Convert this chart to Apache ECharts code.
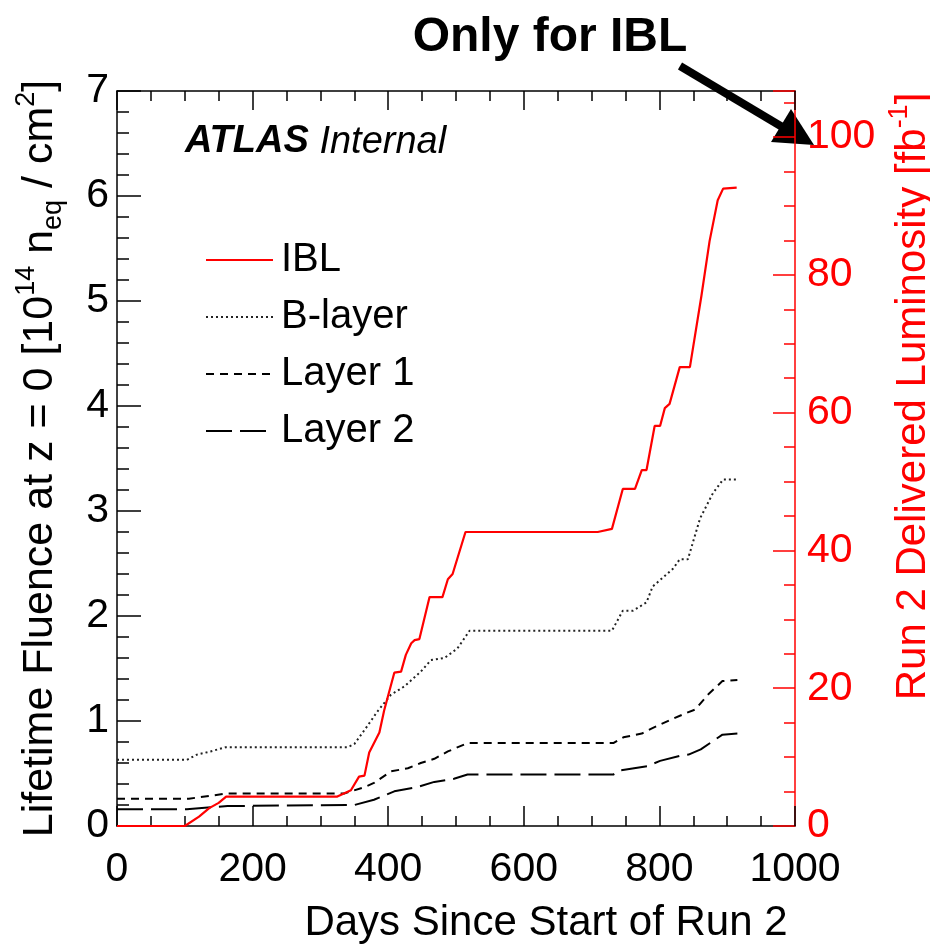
<!DOCTYPE html>
<html lang="en">
<head>
<meta charset="UTF-8">
<title>Lifetime Fluence</title>
<script src="https://cdn.jsdelivr.net/npm/echarts@6/dist/echarts.min.js"></script>
<style>
  html, body { margin: 0; padding: 0; background: #fff; }
  #chart { width: 930px; height: 946px; }
</style>
</head>
<body>
<div id="chart"></div>
<script>
// data (days since start of Run 2, fluence in 1e14 neq/cm2)
var iblDays = [0, 100, 121, 136, 150, 161, 325, 345, 357, 365, 372, 387, 394, 409, 419, 426, 434, 439, 446, 461, 480, 488, 495, 514, 709, 730, 746, 764, 774, 781, 793, 801, 808, 815, 830, 845, 862, 874, 886, 894, 914];
var iblFluence = [0, 0, 0.09, 0.17, 0.22, 0.28, 0.28, 0.34, 0.47, 0.48, 0.70, 0.89, 1.10, 1.46, 1.47, 1.63, 1.74, 1.77, 1.78, 2.18, 2.18, 2.35, 2.40, 2.80, 2.80, 2.83, 3.21, 3.21, 3.39, 3.39, 3.81, 3.81, 3.98, 4.02, 4.37, 4.37, 5.05, 5.57, 5.96, 6.07, 6.08];

var blayerDays = [0, 103, 118, 138, 160, 340, 350, 369, 384, 404, 424, 448, 463, 483, 502, 520, 730, 746, 761, 781, 790, 820, 830, 842, 860, 879, 894, 914];
var blayerFluence = [0.63, 0.63, 0.68, 0.71, 0.75, 0.75, 0.78, 0.95, 1.09, 1.25, 1.33, 1.47, 1.58, 1.60, 1.69, 1.86, 1.86, 2.05, 2.05, 2.13, 2.28, 2.45, 2.54, 2.54, 2.93, 3.17, 3.30, 3.30];

var layer1Days = [0, 106, 163, 335, 365, 379, 404, 429, 448, 468, 488, 517, 732, 747, 774, 789, 816, 841, 853, 873, 893, 915];
var layer1Fluence = [0.26, 0.26, 0.31, 0.31, 0.37, 0.41, 0.52, 0.55, 0.60, 0.64, 0.71, 0.79, 0.79, 0.845, 0.88, 0.93, 1.01, 1.08, 1.11, 1.26, 1.38, 1.39];

var layer2Days = [0, 103, 163, 350, 379, 409, 443, 468, 497, 517, 732, 742, 782, 801, 831, 843, 861, 893, 915];
var layer2Fluence = [0.16, 0.16, 0.19, 0.20, 0.25, 0.33, 0.37, 0.42, 0.45, 0.49, 0.49, 0.53, 0.57, 0.62, 0.67, 0.68, 0.73, 0.87, 0.88];

// right axis (luminosity, fb^-1) range matching 7 on the fluence axis
var lumiMax = 106.7;

function pairs(xs, ys) {
  var out = [];
  for (var i = 0; i < xs.length; i++) out.push([xs[i], ys[i]]);
  return out;
}

var FONT = 'Liberation Sans, Arial, Helvetica, sans-serif';
var RED = '#ff0000';

// tick-only copy of the luminosity axis (no line, no labels)
function lumiTicks(step, len) {
  return {
    type: 'value', position: 'right',
    min: 0, max: lumiMax, interval: step,
    axisLine: { show: false, onZero: false },
    axisTick: { show: true, inside: true, length: len, lineStyle: { color: RED, width: 1.5 } },
    splitLine: { show: false },
    axisLabel: { show: false }
  };
}

var chart = echarts.init(document.getElementById('chart'));

var option = {
  backgroundColor: '#fff',
  animation: false,
  textStyle: { fontFamily: FONT },
  grid: { left: 117, right: 135, top: 91, bottom: 120, containLabel: false, outerBoundsMode: 'none' },
  legend: {
    orient: 'vertical',
    left: 200,
    top: 235,
    itemWidth: 67,
    itemHeight: 14,
    itemGap: 17,
    itemStyle: { opacity: 0 },
    textStyle: { fontSize: 40, color: '#000', fontFamily: FONT, lineHeight: 40, padding: [0, 0, 0, 3] },
    data: ['IBL', 'B-layer', 'Layer 1', 'Layer 2']
  },
  xAxis: [{
    type: 'value', position: 'bottom',
    min: 0, max: 1000, interval: 200,
    axisLine: { onZero: false, lineStyle: { color: '#000', width: 1.5 } },
    axisTick: { inside: true, length: 20, lineStyle: { color: '#000', width: 1.5 } },
    minorTick: { show: true, splitNumber: 4, length: 10, lineStyle: { color: '#000', width: 1.5 } },
    splitLine: { show: false },
    axisLabel: { fontSize: 41, color: '#000', margin: 23, fontFamily: FONT, formatter: function (v) { return String(v); } },
    name: 'Days Since Start of Run 2',
    nameLocation: 'middle',
    nameGap: 76,
    nameTextStyle: { fontSize: 42, color: '#000', fontFamily: FONT, padding: [0, 0, 0, 180] }
  }, {
    type: 'value', position: 'top',
    min: 0, max: 1000, interval: 200,
    axisLine: { onZero: false, lineStyle: { color: '#000', width: 1.5 } },
    axisTick: { inside: true, length: 19, lineStyle: { color: '#000', width: 1.5 } },
    minorTick: { show: true, splitNumber: 4, length: 10, lineStyle: { color: '#000', width: 1.5 } },
    splitLine: { show: false },
    axisLabel: { show: false }
  }],
  yAxis: [{
    type: 'value', position: 'left',
    min: 0, max: 7, interval: 1,
    axisLine: { show: true, onZero: false, lineStyle: { color: '#000', width: 1.5 } },
    axisTick: { inside: true, length: 24, lineStyle: { color: '#000', width: 1.5 } },
    minorTick: { show: true, splitNumber: 5, length: 12, lineStyle: { color: '#000', width: 1.5 } },
    splitLine: { show: false },
    axisLabel: { fontSize: 41, color: '#000', margin: 8, fontFamily: FONT },
    name: '{a|Lifetime Fluence at z = 0 [10}{sup|14}{a| n}{sub|eq}{a| / cm}{sup|2}{a|]}',
    nameLocation: 'middle',
    nameRotate: 90,
    nameGap: 50,
    nameTextStyle: {
      color: '#000',
      rich: {
        a: { fontSize: 43, fontFamily: FONT, color: '#000', lineHeight: 54 },
        sup: { fontSize: 27, fontFamily: FONT, color: '#000', verticalAlign: 'top', lineHeight: 54 },
        sub: { fontSize: 27, fontFamily: FONT, color: '#000', verticalAlign: 'bottom', lineHeight: 54 }
      }
    }
  }, {
    type: 'value', position: 'right',
    min: 0, max: lumiMax, interval: 20,
    axisLine: { show: true, onZero: false, lineStyle: { color: RED, width: 1.5 } },
    axisTick: { show: false },
    splitLine: { show: false },
    axisLabel: {
      fontSize: 41, color: RED, margin: 12, fontFamily: FONT,
      formatter: function (v) { return v % 20 === 0 ? String(v) : ''; }
    },
    name: '{a|Run 2 Delivered Luminosity [fb}{sup|-1}{a|]}',
    nameLocation: 'middle',
    nameRotate: 90,
    nameGap: 76,
    nameTextStyle: {
      color: RED,
      padding: [0, 0, 0, 124],
      rich: {
        a: { fontSize: 42, fontFamily: FONT, color: RED, lineHeight: 54 },
        sup: { fontSize: 27, fontFamily: FONT, color: RED, verticalAlign: 'top', lineHeight: 54 }
      }
    }
  }, lumiTicks(20, 22), lumiTicks(5, 11)],
  graphic: [
    {
      type: 'text', left: 185, top: 123,
      style: {
        text: '{b|ATLAS}{i| Internal}',
        rich: {
          b: { fontSize: 38, fontWeight: 'bold', fontStyle: 'italic', fontFamily: FONT, fill: '#000' },
          i: { fontSize: 38, fontStyle: 'italic', fontFamily: FONT, fill: '#000' }
        }
      }
    },
    {
      type: 'text', x: 550, y: 38,
      style: {
        text: 'Only for IBL', fontSize: 48, fontWeight: 'bold', fontFamily: FONT, fill: '#000',
        align: 'center', verticalAlign: 'middle'
      }
    },
    {
      type: 'line',
      shape: { x1: 680, y1: 66, x2: 784, y2: 128 },
      style: { stroke: '#000', lineWidth: 8 }
    },
    {
      type: 'polygon',
      shape: { points: [[814, 145], [771, 142], [791, 109]] },
      style: { fill: '#000' }
    }
  ],
  series: [{
    name: 'IBL', type: 'line', z: 5,
    symbol: 'none', smooth: false,
    lineStyle: { color: RED, width: 2.2 },
    itemStyle: { color: RED },
    data: pairs(iblDays, iblFluence)
  }, {
    name: 'B-layer', type: 'line',
    symbol: 'none',
    lineStyle: { color: '#222', width: 2, type: [2, 3] },
    itemStyle: { color: '#222' },
    data: pairs(blayerDays, blayerFluence)
  }, {
    name: 'Layer 1', type: 'line',
    symbol: 'none',
    lineStyle: { color: '#000', width: 2, type: [8, 6] },
    itemStyle: { color: '#000' },
    data: pairs(layer1Days, layer1Fluence)
  }, {
    name: 'Layer 2', type: 'line',
    symbol: 'none',
    lineStyle: { color: '#000', width: 2, type: [26, 8] },
    itemStyle: { color: '#000' },
    data: pairs(layer2Days, layer2Fluence)
  }]
};

chart.setOption(option);
</script>
</body>
</html>
